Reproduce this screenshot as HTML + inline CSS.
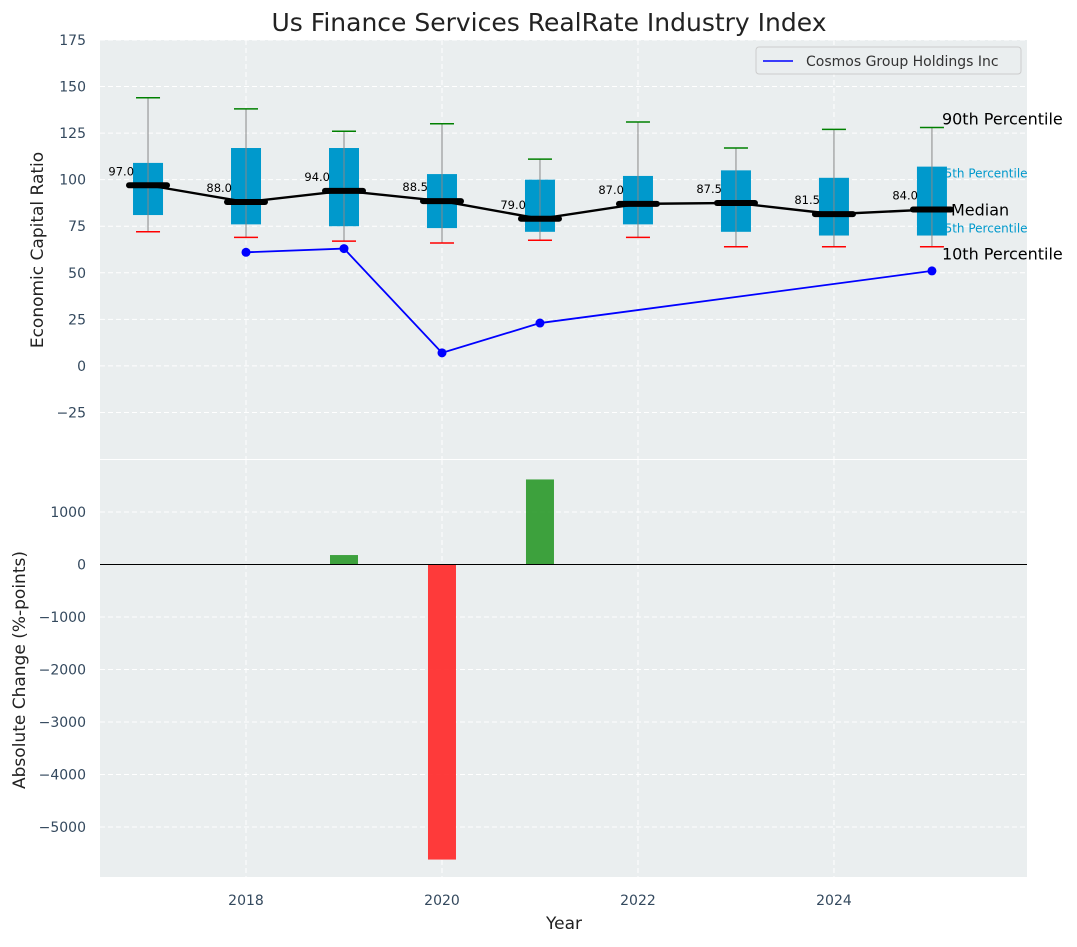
<!DOCTYPE html>
<html><head><meta charset="utf-8"><style>
body{margin:0;background:#fff;font-family:"Liberation Sans","DejaVu Sans",sans-serif}
</style></head><body>
<svg id="chart" width="1077" height="942" xmlns="http://www.w3.org/2000/svg" font-family="DejaVu Sans, Liberation Sans, sans-serif"></svg>
<script>
const years=[2017,2018,2019,2020,2021,2022,2023,2024,2025];
const p10=[72,69,67,66,67.5,69,64,64,64];
const p25=[81,76,75,74,72,76,72,70,70];
const median=[97,88,94,88.5,79,87,87.5,81.5,84];
const p75=[109,117,117,103,100,102,105,101,107];
const p90=[144,138,126,130,111,131,117,127,128];
const compYears=[2018,2019,2020,2021,2025];
const compVals=[61,63,7,23,51];
const barYears=[2019,2020,2021];
const barVals=[180,-5620,1620];
const topTicks=[-25,0,25,50,75,100,125,150,175];
const botTicks=[-5000,-4000,-3000,-2000,-1000,0,1000];
const xTicks=[2018,2020,2022,2024];

const svg=document.getElementById('chart');const NS='http://www.w3.org/2000/svg';
function el(t,a,p){const e=document.createElementNS(NS,t);for(const k in a)e.setAttribute(k,a[k]);(p||svg).appendChild(e);return e;}
const L=100,R=1027;
const x=v=>L+(v-2016.51)*(R-L)/(2025.97-2016.51);
const T0=40,T1=459,B0=460,B1=877;
const yT=v=>T0+(175-v)*(T1-T0)/225;
const yB=v=>512+(1000-v)*52.5/1000;

let e;
e=el('rect',{x:L,y:T0,width:R-L,height:T1-T0,fill:'#eaeeef'});

e=el('rect',{x:L,y:B0,width:R-L,height:B1-B0,fill:'#eaeeef'});

xTicks.forEach(t=>{
 el('line',{x1:x(t),x2:x(t),y1:T0,y2:T1,stroke:'#fff','stroke-dasharray':'5,3'});
 el('line',{x1:x(t),x2:x(t),y1:B0,y2:B1,stroke:'#fff','stroke-dasharray':'5,3'});
 e=el('text',{x:x(t),y:905,'text-anchor':'middle','font-size':14,fill:'#34495e'});e.textContent=t;
 
});
topTicks.forEach(t=>{
 el('line',{x1:L,x2:R,y1:yT(t),y2:yT(t),stroke:'#fff','stroke-dasharray':'5,3'});
 e=el('text',{x:86,y:yT(t)+5,'text-anchor':'end','font-size':14,fill:'#34495e'});e.textContent=t<0?'\u2212'+(-t):t;
 
});
botTicks.forEach(t=>{
 el('line',{x1:L,x2:R,y1:yB(t),y2:yB(t),stroke:'#fff','stroke-dasharray':'5,3'});
 e=el('text',{x:86,y:yB(t)+5,'text-anchor':'end','font-size':14,fill:'#34495e'});e.textContent=t<0?'\u2212'+(-t):t;
 
});
years.forEach((yr,i)=>{
 const cx=x(yr);
 e=el('rect',{x:cx-15,y:yT(p75[i]),width:30,height:yT(p25[i])-yT(p75[i]),fill:'#0099cc'});
 
 el('line',{x1:cx,x2:cx,y1:yT(p10[i]),y2:yT(p90[i]),stroke:'#888','stroke-width':1});
 e=el('line',{x1:cx-12,x2:cx+12,y1:yT(p90[i]),y2:yT(p90[i]),stroke:'green','stroke-width':1.5});
 
 e=el('line',{x1:cx-12,x2:cx+12,y1:yT(p10[i]),y2:yT(p10[i]),stroke:'red','stroke-width':1.5});
 
});
e=el('polyline',{points:years.map((y,i)=>x(y)+','+yT(median[i])).join(' '),fill:'none',stroke:'#000','stroke-width':2.4});

years.forEach((yr,i)=>{
 const cx=x(yr);
 e=el('line',{x1:cx-19,x2:cx+19,y1:yT(median[i]),y2:yT(median[i]),stroke:'#000','stroke-width':6,'stroke-linecap':'round'});
 
 e=el('text',{x:cx-14,y:yT(median[i])-10,'text-anchor':'end','font-size':11.5,fill:'#000'});e.textContent=median[i].toFixed(1);
 
});
e=el('polyline',{points:compYears.map((y,i)=>x(y)+','+yT(compVals[i])).join(' '),fill:'none',stroke:'blue','stroke-width':1.8});

compYears.forEach((y,i)=>{e=el('circle',{cx:x(y),cy:yT(compVals[i]),r:4.5,fill:'blue'});
 });
const lx=x(2025)+10,li=years.length-1;
[['90th Percentile',yT(p90[li])-3,16,'#000',lx],['75th Percentile',yT(p75[li])+11,12,'#0099cc',lx-5],['Median',yT(median[li])+6,16,'#000',lx+9],['25th Percentile',yT(p25[li])-3,12,'#0099cc',lx-5],['10th Percentile',yT(p10[li])+13,16,'#000',lx]].forEach(a=>{
 e=el('text',{x:a[4],y:a[1],'font-size':a[2],fill:a[3]});e.textContent=a[0];
 
});
const g=el('g',{});
el('rect',{x:756,y:47,width:265,height:27,fill:'#eaeeef',stroke:'#ccc',rx:3},g);
el('line',{x1:763,x2:793,y1:61,y2:61,stroke:'blue','stroke-width':1.6},g);
e=el('text',{x:806,y:66,'font-size':14,fill:'#333'},g);e.textContent='Cosmos Group Holdings Inc';
barYears.forEach((y,i)=>{const v=barVals[i];
 e=el('rect',{x:x(y)-14,y:Math.min(yB(v),yB(0)),width:28,height:Math.abs(yB(v)-yB(0)),fill:v>=0?'#2e9a2e':'#ff2a2a','fill-opacity':0.92});
 });
el('line',{x1:L,x2:R,y1:yB(0),y2:yB(0),stroke:'#000','stroke-width':1});
e=el('text',{x:549,y:31,'text-anchor':'middle','font-size':25,fill:'#222'});e.textContent='Us Finance Services RealRate Industry Index';

e=el('text',{x:564,y:929,'text-anchor':'middle','font-size':17,fill:'#222'});e.textContent='Year';

e=el('text',{x:0,y:0,'text-anchor':'middle','font-size':17,fill:'#222',transform:'translate(43,250) rotate(-90)'});e.textContent='Economic Capital Ratio';

e=el('text',{x:0,y:0,'text-anchor':'middle','font-size':17,fill:'#222',transform:'translate(25,670) rotate(-90)'});e.textContent='Absolute Change (%-points)';

</script>
</body></html>
